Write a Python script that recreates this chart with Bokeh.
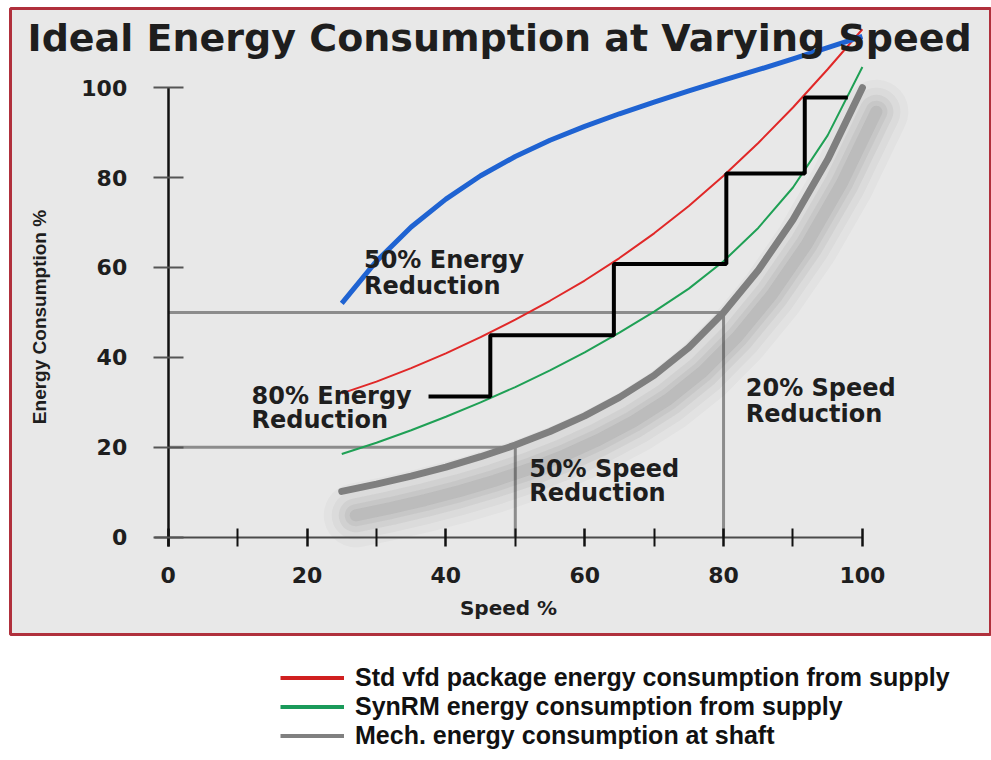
from bokeh.plotting import figure
from bokeh.models import LinearAxis, FixedTicker, Range1d, Label, Legend, LegendItem
from bokeh.layouts import column
from bokeh.embed import file_html
from bokeh.resources import INLINE
from bokeh.core.properties import value

# ---------------- data ----------------
speed = [25, 30, 35, 40, 45, 50, 55, 60, 65, 70, 75, 80, 85, 90, 95, 100]
fixed_speed_energy = [52.0, 61.4, 69.0, 75.2, 80.4, 84.7, 88.3, 91.4, 94.2, 96.8, 99.3, 101.7, 104.0, 106.4, 108.9, 111.4]
std_vfd_energy = [32.0, 34.6, 37.6, 40.9, 44.5, 48.4, 52.6, 57.1, 62.1, 67.6, 73.7, 80.4, 87.7, 95.6, 104.1, 113.0]
synrm_energy = [18.5, 21.0, 23.8, 26.8, 30.0, 33.4, 37.1, 41.1, 45.5, 50.2, 55.3, 61.4, 68.8, 77.8, 89.4, 104.6]
shaft_energy = [10.2, 11.8, 13.6, 15.6, 17.9, 20.5, 23.5, 27.0, 31.1, 36.0, 42.2, 50.0, 59.4, 70.6, 84.0, 100.0]

step_speed = [37.5, 46.4, 64.2, 80.4, 91.7, 97.9]
step_energy = [31.3, 44.9, 60.8, 80.9, 97.8, 97.8]

ref_speed = [50, 80]
ref_energy = [20, 50]

x_ticks = [0, 20, 40, 60, 80, 100]
x_minor_ticks = [10, 30, 50, 70, 90]
y_ticks = [0, 20, 40, 60, 80, 100]

title_text = "Ideal Energy Consumption at Varying Speed"
x_title = "Speed %"
y_title = "Energy Consumption %"
notes = ["50% Energy", "Reduction", "80% Energy", "Reduction",
         "50% Speed", "Reduction", "20% Speed", "Reduction"]
legend_labels = ["Std vfd package energy consumption from supply",
                 "SynRM energy consumption from supply",
                 "Mech. energy consumption at shaft"]

# annotation positions (data units)
note_x = [28.2, 28.2, 12.0, 12.0, 52.0, 52.0, 83.2, 83.2]
note_y = [61.6, 55.8, 31.3, 26.0, 15.2, 9.9, 33.3, 27.5]

# ---------------- colours / fonts ----------------
BLUE = "#1f63d2"
RED = "#e02828"
GREEN = "#1fa055"
GRAY = "#7f7f7f"
REFGRAY = "#8c8c8c"
TXT = "#1e1e1e"
FONT = "DejaVu Sans"

W = 991
HA = 638
HB = 122

XR = (-22.72, 118.60)
YR = (-21.65, 117.62)

p = figure(width=W, height=HA, x_range=Range1d(*XR), y_range=Range1d(*YR),
           output_backend="svg", toolbar_location=None,
           x_axis_type=None, y_axis_type=None,
           min_border_left=10, min_border_right=0, min_border_top=8, min_border_bottom=4)
p.background_fill_color = "#e8e8e8"
p.border_fill_color = "white"
p.outline_line_color = "#b0303c"
p.outline_line_width = 3

# shadow ranges (same data, drawn slightly offset)
dx = 14 / 6.942
dy = 24 / 4.495
p.extra_x_ranges = {"shadow": Range1d(XR[0] - dx, XR[1] - dx)}
p.extra_y_ranges = {"shadow": Range1d(YR[0] + dy, YR[1] + dy)}

# axes
xaxis = LinearAxis(fixed_location=0, bounds=(-2, 100),
                   ticker=FixedTicker(ticks=x_ticks, minor_ticks=x_minor_ticks))
xaxis.axis_line_color = "#4a4a4a"
xaxis.axis_line_width = 2
xaxis.major_tick_line_color = "#111111"
xaxis.major_tick_line_width = 2.5
xaxis.major_tick_in = 9
xaxis.major_tick_out = 9
xaxis.minor_tick_line_color = "#111111"
xaxis.minor_tick_line_width = 2
xaxis.minor_tick_in = 9
xaxis.minor_tick_out = 9
xaxis.major_label_text_font = FONT
xaxis.major_label_text_font_style = "bold"
xaxis.major_label_text_font_size = "22px"
xaxis.major_label_text_color = TXT
xaxis.major_label_standoff = 21
xaxis.axis_label = x_title
xaxis.axis_label_text_font = FONT
xaxis.axis_label_text_font_style = "bold"
xaxis.axis_label_text_font_size = "20px"
xaxis.axis_label_text_color = TXT
xaxis.axis_label_standoff = 9
p.add_layout(xaxis, "below")

yaxis = LinearAxis(fixed_location=0, bounds=(-2, 100), ticker=FixedTicker(ticks=y_ticks))
yaxis.axis_line_color = "#111111"
yaxis.axis_line_width = 2.5
yaxis.major_tick_line_color = "#555555"
yaxis.major_tick_line_width = 2
yaxis.major_tick_in = 15
yaxis.major_tick_out = 15
yaxis.minor_tick_line_color = None
yaxis.major_label_text_font = FONT
yaxis.major_label_text_font_style = "bold"
yaxis.major_label_text_font_size = "22px"
yaxis.major_label_text_color = TXT
yaxis.major_label_standoff = 26
yaxis.axis_label = y_title
yaxis.axis_label_text_font = "Liberation Sans"
yaxis.axis_label_text_font_style = "bold"
yaxis.axis_label_text_font_size = "19px"
yaxis.axis_label_text_color = TXT
yaxis.axis_label_standoff = 29
p.add_layout(yaxis, "left")

# reference lines
p.segment(x0=[0] * len(ref_speed), y0=ref_energy, x1=ref_speed, y1=ref_energy,
          line_color=REFGRAY, line_width=3)
p.segment(x0=ref_speed, y0=[0] * len(ref_speed), x1=ref_speed, y1=ref_energy,
          line_color=REFGRAY, line_width=3)

# soft shadow of the shaft curve
for w, a in [(64, 0.03), (48, 0.04), (34, 0.05), (22, 0.06), (12, 0.07)]:
    p.line(speed, shaft_energy, line_color="#303030", line_width=w, line_alpha=a,
           line_cap="round", line_join="round",
           x_range_name="shadow", y_range_name="shadow")

r_shaft = p.line(speed, shaft_energy, line_color=GRAY, line_width=7, line_cap="round", line_join="round")
r_synrm = p.line(speed, synrm_energy, line_color=GREEN, line_width=2, line_join="round")
r_vfd = p.line(speed, std_vfd_energy, line_color=RED, line_width=2, line_join="round")
p.line(speed, fixed_speed_energy, line_color=BLUE, line_width=5, line_join="round")
p.step(step_speed, step_energy, mode="after", line_color="black", line_width=4)

p.text(x=note_x, y=note_y, text=notes, text_font=value(FONT), text_font_style="bold",
       text_font_size="24px", text_color=TXT, text_baseline="middle", text_align="left")

p.add_layout(Label(x=-20.27, y=110.95, text=title_text, text_font=FONT,
                   text_font_style="bold", text_font_size="38px", text_color=TXT,
                   text_baseline="middle", text_align="left"))

# ---------------- legend panel ----------------
# same series, drawn outside this panel's visible range so only the legend shows
q = figure(width=W, height=HB, x_range=Range1d(-10, -9), y_range=Range1d(-10, -9),
           output_backend="svg", toolbar_location=None,
           x_axis_type=None, y_axis_type=None, min_border=0)
q.outline_line_color = None
q.background_fill_color = "white"
q.border_fill_color = "white"
l1 = q.line(speed, std_vfd_energy, line_color="#d01f1f", line_width=4)
l2 = q.line(speed, synrm_energy, line_color="#1a9a5a", line_width=4)
l3 = q.line(speed, shaft_energy, line_color="#808080", line_width=4)
legend = Legend(items=[LegendItem(label=legend_labels[0], renderers=[l1]),
                       LegendItem(label=legend_labels[1], renderers=[l2]),
                       LegendItem(label=legend_labels[2], renderers=[l3])],
                location=(270, 10), orientation="vertical",
                background_fill_alpha=0, border_line_color=None,
                padding=0, margin=0, spacing=0,
                glyph_width=64, glyph_height=27, label_height=27, label_standoff=11,
                label_text_font="Liberation Sans", label_text_font_style="bold",
                label_text_font_size="25px", label_text_color="#111111")
q.add_layout(legend)

layout = column(p, q, spacing=0)
open("out.html", "w").write(file_html(layout, INLINE))
